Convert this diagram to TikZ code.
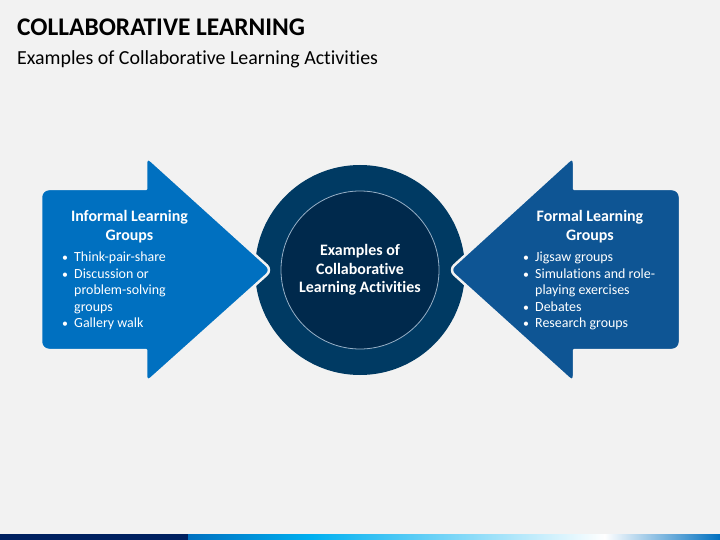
\documentclass[tikz,border=0pt]{standalone}
\usepackage{fontspec}
\setmainfont{Carlito}[Ligatures=NoCommon]
\definecolor{bgc}{RGB}{242,242,242}
\definecolor{leftblue}{RGB}{0,112,192}
\definecolor{rightblue}{RGB}{14,85,148}
\definecolor{ringc}{RGB}{0,58,99}
\definecolor{innerc}{RGB}{0,41,76}
\definecolor{innerline}{RGB}{150,175,198}
\definecolor{navy}{RGB}{0,32,96}
\definecolor{cyanc}{RGB}{0,176,240}
\definecolor{barblue}{RGB}{0,112,192}
\newcommand\bitem[1]{\par\spaceskip=0pt\xspaceskip=0pt\hangindent=12.5bp\hangafter=1\noindent\hbox to 12.5bp{\hskip0.5bp\scalebox{0.85}{\textbullet}\hfil}#1}
\newcommand\brk{\hfil\break}
\begin{document}
\begin{tikzpicture}[x=1bp,y=-1bp,
  arrowshape/.style={draw=bgc,line width=2.5bp,line join=round},
  headtxt/.style={text=white,align=center,inner sep=0,font=\fontsize{16}{19}\selectfont\bfseries},
  listtxt/.style={text=white,inner sep=0,anchor=north west,text width=140bp,align=left,font=\fontsize{14}{16.6}\selectfont}]
\useasboundingbox (0,0) rectangle (720,540);
\fill[bgc] (0,0) rectangle (720,540);
% title
\node[anchor=base west,inner sep=0,font=\fontsize{25.5}{30}\selectfont\bfseries] (title) at (17,36) {COLLABORATIVE LEARNING};
\node[anchor=base west,inner sep=0,font=\fontsize{20}{24}\selectfont] (subtitle) at (17,65) {Examples of Collaborative Learning Activities};
% circle
\fill[ringc] (360,270) circle[radius=105];
\fill[innerc,draw=innerline,line width=0.8bp] (360,270) circle[radius=79];
% left arrow
\path[arrowshape,fill=leftblue] (41,270) [rounded corners=8] -- (41,189) [sharp corners] -- (146,189) [rounded corners=7] -- (146,156) -- (272,270) -- (146,383) [sharp corners] -- (146,350) [rounded corners=8] -- (41,350) -- cycle;
% right arrow
\path[arrowshape,fill=rightblue] (680,270) [rounded corners=8] -- (680,189) [sharp corners] -- (574,189) [rounded corners=7] -- (574,156) -- (449,270) -- (574,383) [sharp corners] -- (574,350) [rounded corners=8] -- (680,350) -- cycle;
% texts
\node[headtxt,font=\fontsize{16}{18.5}\selectfont\bfseries] (center) at (360,270) {Examples of\\Collaborative\\Learning Activities};
\node[headtxt] (lhead) at (129.5,227) {Informal Learning\\Groups};
\node[headtxt] (rhead) at (590,227) {Formal Learning\\Groups};
\node[listtxt] (llist) at (61.5,245) {\bitem{Think-pair-share}\bitem{Discussion or\brk problem-solving\brk groups}\bitem{Gallery walk}};
\node[listtxt] (rlist) at (522.5,245) {\bitem{Jigsaw groups}\bitem{Simulations and role-\brk playing exercises}\bitem{Debates}\bitem{Research groups}};
% bottom bar
\fill[navy] (0,534) rectangle (188,540);
\shade[left color=barblue,right color=cyanc] (188,534) rectangle (312,540);
\shade[left color=cyanc,right color=white] (311.5,534) rectangle (605,540);
\shade[left color=white,right color=barblue] (604.5,534) rectangle (720,540);
\end{tikzpicture}
\end{document}
